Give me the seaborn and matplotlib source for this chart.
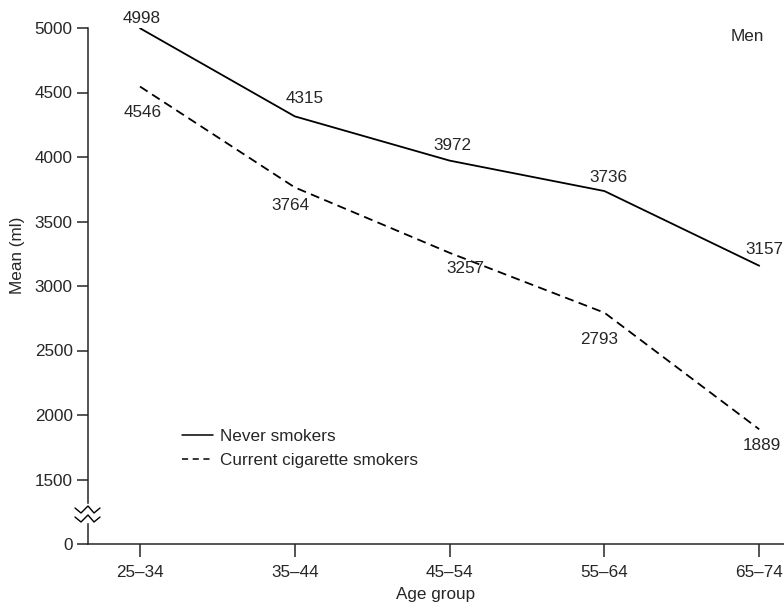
import matplotlib
matplotlib.use("Agg")
import matplotlib.pyplot as plt
import pandas as pd
import seaborn as sns
from matplotlib.lines import Line2D
from matplotlib.patches import Rectangle

# Data
age_groups = ["25\u201334", "35\u201344", "45\u201354", "55\u201364", "65\u201374"]
never_smokers = [4998, 4315, 3972, 3736, 3157]
current_smokers = [4546, 3764, 3257, 2793, 1889]
series_names = ["Never smokers", "Current cigarette smokers"]

df = pd.DataFrame({
    "age": age_groups * 2,
    "mean": never_smokers + current_smokers,
    "group": [series_names[0]] * 5 + [series_names[1]] * 5,
})

sns.set_style("ticks")
plt.rcParams["font.family"] = ["Liberation Sans", "DejaVu Sans"]
FS = 12.3
plt.rcParams["font.size"] = FS

W, H = 784, 610
fig = plt.figure(figsize=(W / 100, H / 100), dpi=100)
# axes placed in pixel terms: left spine at x=88, y=1000 ("0") at 544, y=5000 at 28
ax = fig.add_axes([88 / W, 1 - 544 / H, (W - 88) / W, (544 - 28) / H])

sns.lineplot(data=df, x="age", y="mean", style="group", style_order=series_names,
             dashes=["", (5, 3)], color="black", linewidth=1.3, ax=ax, legend=False)

ax.set_xlim(-0.336, 4.16)
ax.set_ylim(1000, 5000)
yticks = [1000, 1500, 2000, 2500, 3000, 3500, 4000, 4500, 5000]
ax.set_yticks(yticks)
ax.set_yticklabels(["0"] + [str(t) for t in yticks[1:]])
sns.despine(ax=ax)
ax.spines["left"].set_linewidth(1.1)
ax.spines["bottom"].set_linewidth(1.1)
ax.tick_params(axis="y", length=8, width=1.1, pad=3, labelsize=FS)
ax.tick_params(axis="x", length=9, width=1.1, pad=6, labelsize=FS)

ax.set_xlabel("Age group", fontsize=FS, labelpad=5)
ax.set_ylabel("Mean (ml)", fontsize=FS)
ax.yaxis.set_label_coords(-0.09, 0.56)

# value labels, offsets in points
off_never = [(1, 7), (7, 13), (2, 11), (3, 10), (4, 12)]
off_current = [(2, -19), (-3, -13), (11, -11), (-4, -19), (2, -12)]
for i, v in enumerate(never_smokers):
    ax.annotate(str(v), (i, v), xytext=off_never[i], textcoords="offset points",
                ha="center", va="center", fontsize=FS, annotation_clip=False)
for i, v in enumerate(current_smokers):
    ax.annotate(str(v), (i, v), xytext=off_current[i], textcoords="offset points",
                ha="center", va="center", fontsize=FS, annotation_clip=False)

ax.text(0.947, 0.983, "Men", transform=ax.transAxes, ha="center", va="center",
        fontsize=FS)

handles = [Line2D([], [], color="black", lw=1.1),
           Line2D([], [], color="black", lw=1.1, dashes=(4, 3))]
ax.legend(handles, series_names, loc="upper left", bbox_to_anchor=(0.135, 0.222),
          frameon=False, borderpad=0, borderaxespad=0, handlelength=1.8,
          handletextpad=0.4, labelspacing=0.5, fontsize=FS)

# axis break on the y spine
def px(x, y):
    return x / W, 1 - y / H

fig.add_artist(Rectangle(px(84, 522), 8 / W, 18 / H, transform=fig.transFigure,
                         color="white", zorder=5))
for dy in (0, 9):
    xs = [75, 81, 88, 94, 100]
    ys = [508 + dy, 513 + dy, 506 + dy, 513 + dy, 508 + dy]
    pts = [px(x, y) for x, y in zip(xs, ys)]
    fig.add_artist(Line2D([p[0] for p in pts], [p[1] for p in pts],
                          transform=fig.transFigure, color="black", lw=1.0, zorder=6))

fig.savefig("out.png", dpi=100)
